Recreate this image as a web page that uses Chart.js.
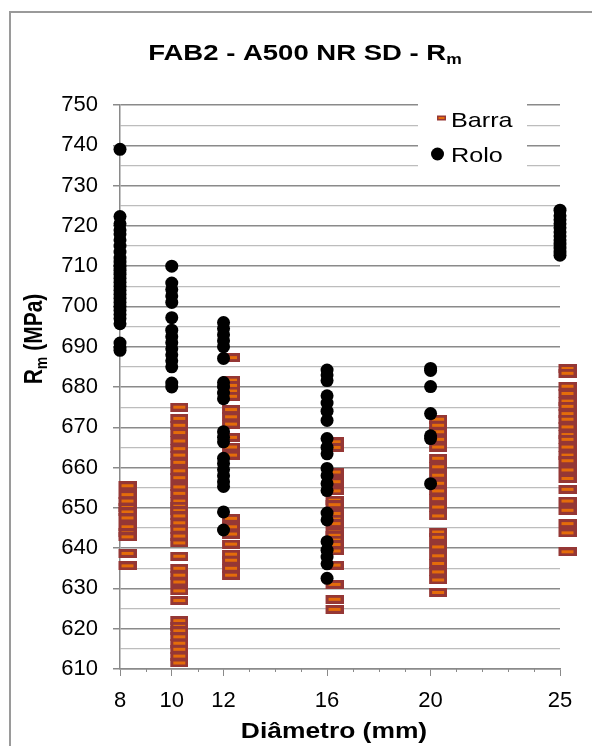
<!DOCTYPE html>
<html>
<head>
<meta charset="utf-8">
<script src="https://cdn.jsdelivr.net/npm/chart.js@4"></script>
<style>
  html, body { margin: 0; padding: 0; background: #fff; overflow: hidden; }
</style>
</head>
<body>
<canvas id="chart" width="592" height="746"></canvas>
<script>
'use strict';

// data (MPa)
const diameters = [8, 10, 12, 16, 20, 25];
const xLabels = [8, 10, 12, 16, 20, 25];

const barra8 = [655.5, 653.3, 651.7, 650.1, 649, 647.5, 645.3, 643.8, 642.8, 638.7, 635.6];
const barra10 = [675, 672.2, 670.5, 668.7, 666.6, 664.7, 663.1, 661.3, 659.2, 657.5, 655.2, 653.6, 651.7, 650.4, 649.3, 648, 646.3, 644.7, 643, 641.3,
  638, 635, 633.3, 631.6, 629.4, 627, 622, 620.6, 619.5, 618, 616.4, 614.9, 613.2, 611.5];
const barra12 = [687.3, 681.7, 680.4, 679, 677.7, 674.4, 672.6, 670.8, 667.5, 665.1, 663.1, 647.4, 645.3, 643.5, 641, 638.5, 637, 635, 633.3];
const barra16 = [666.4, 665, 658.9, 656.5, 654.2, 651.9, 650.8, 648.6, 647.2, 646.1, 644, 643.2, 642, 640.9, 639.3, 635.8, 631, 627.3, 624.8];
const barra20 = [672, 670.5, 668.9, 667, 665.1, 662.3, 660.2, 658.1, 656.1, 654.2, 652.3, 650.2, 648, 644, 642.7, 640.3, 638.1, 636.2, 634.1, 632.1, 629];
const barra25 = [684.6, 683.4, 680.2, 678.4, 676.5, 675.2, 673.4, 672, 670.1, 668.2, 667, 665.1, 663.1, 661.7, 659.4, 657.3, 654.6, 651.7, 649.4, 646.1, 643.8, 639.1];

const rolo8 = [739, 722.3, 720.5, 719, 718, 716.5, 715, 713.5, 712, 711, 710, 709, 708, 707, 706, 705, 704, 703, 702, 701, 700, 699, 698, 697, 695.7, 690.9, 689.8, 689.1];
const rolo10 = [710, 705.8, 704.2, 702.6, 701, 697.2, 694.1, 692.5, 691, 689.5, 688, 686.5, 685, 681, 680];
const rolo12 = [696, 694.5, 693, 691.5, 690, 687.1, 681.1, 680, 678.5, 677.1, 668.9, 667.5, 666.4, 662.3, 661, 659.5, 658, 656.5, 655.3, 649, 644.5];
const rolo16 = [684.2, 683, 681.6, 677.8, 676, 674, 671.7, 667.2, 665, 663.4, 659.8, 658, 656, 654.3, 648.7, 647, 641.6, 639.5, 637.8, 636.1, 632.5];
const rolo20 = [684.6, 684.1, 680.1, 673.4, 667.9, 667.2, 656];
const rolo25 = [723.9, 722.5, 721.5, 720.5, 719.5, 718.5, 717.5, 716.5, 715.5, 714.5, 713.5, 712.7];

const barraSets = [barra8, barra10, barra12, barra16, barra20, barra25];
const roloSets = [rolo8, rolo10, rolo12, rolo16, rolo20, rolo25];

// colours
const darkRed = '#953735';
const orange = '#E46C0A';
const majorGrid = '#8a8a8a';
const minorGrid = '#bdbdbd';
const fontFamily = "'Liberation Sans', Arial, sans-serif";

function toPoints(sets) {
  let points = [];
  for (let i = 0; i < diameters.length; i++) {
    for (let j = 0; j < sets[i].length; j++) {
      points.push({ x: diameters[i], y: sets[i][j] });
    }
  }
  return points;
}

// Barra marker: a small dark red bar with an orange stripe, drawn a bit right of its point
function makeBarraMarker() {
  let c = document.createElement('canvas');
  c.width = 33;
  c.height = 9;
  let g = c.getContext('2d');
  g.fillStyle = darkRed;
  g.fillRect(15, 0, 18, 9);
  g.fillStyle = orange;
  g.fillRect(18, 3, 12, 3);
  return c;
}

// text stretched sideways like in the picture
function drawParts(ctx, parts, x, y, align, sx, sy) {
  let width = 0;
  for (let p of parts) {
    ctx.font = p.font;
    width += ctx.measureText(p.text).width;
  }
  ctx.save();
  ctx.translate(x, y);
  ctx.scale(sx, sy);
  let cx = align === 'center' ? -width / 2 : 0;
  ctx.textAlign = 'left';
  ctx.textBaseline = 'alphabetic';
  ctx.fillStyle = '#000';
  for (let p of parts) {
    ctx.font = p.font;
    ctx.fillText(p.text, cx, p.dy || 0);
    cx += ctx.measureText(p.text).width;
  }
  ctx.restore();
}

const decor = {
  id: 'decor',
  beforeDraw(chart) {
    let ctx = chart.ctx;
    ctx.save();
    ctx.fillStyle = '#fff';
    ctx.fillRect(0, 0, chart.width, chart.height);
    ctx.restore();
  },
  afterDraw(chart) {
    let ctx = chart.ctx;
    let xs = chart.scales.x;
    let bottom = chart.chartArea.bottom;

    // short minor ticks on the x axis
    ctx.save();
    ctx.strokeStyle = majorGrid;
    ctx.lineWidth = 1;
    for (let v = 9; v < 25; v++) {
      if (xLabels.includes(v)) continue;
      let px = Math.round(xs.getPixelForValue(v)) + 0.5;
      ctx.beginPath();
      ctx.moveTo(px, bottom);
      ctx.lineTo(px, bottom + 3);
      ctx.stroke();
    }

    // outer frame
    ctx.strokeStyle = '#9a9a9a';
    ctx.lineWidth = 2;
    ctx.beginPath();
    ctx.moveTo(10, 760);
    ctx.lineTo(10, 12);
    ctx.lineTo(600, 12);
    ctx.stroke();
    ctx.restore();

    // title
    drawParts(ctx, [
      { text: 'FAB2 - A500 NR SD - R', font: 'bold 22px ' + fontFamily },
      { text: 'm', font: 'bold 14px ' + fontFamily, dy: 4 }
    ], 305, 60, 'center', 1.25, 1);

    // x axis title
    drawParts(ctx, [
      { text: 'Diâmetro (mm)', font: 'bold 22px ' + fontFamily }
    ], 334, 738, 'center', 1.2, 1);

    // y axis title, rotated
    ctx.save();
    ctx.translate(42, 339);
    ctx.rotate(-Math.PI / 2);
    drawParts(ctx, [
      { text: 'R', font: 'bold 21px ' + fontFamily },
      { text: 'm', font: 'bold 14px ' + fontFamily, dy: 4 },
      { text: ' (MPa)', font: 'bold 21px ' + fontFamily }
    ], 0, 0, 'center', 1, 1.2);
    ctx.restore();

    // legend
    ctx.save();
    ctx.fillStyle = '#fff';
    ctx.fillRect(418, 97, 109, 76);
    ctx.fillStyle = darkRed;
    ctx.fillRect(437, 115.5, 9, 5);
    ctx.fillStyle = orange;
    ctx.fillRect(438.5, 117, 6, 2);
    ctx.fillStyle = '#000';
    ctx.beginPath();
    ctx.arc(437.5, 154, 6.5, 0, Math.PI * 2);
    ctx.fill();
    ctx.restore();
    drawParts(ctx, [{ text: 'Barra', font: '21px ' + fontFamily }], 451, 126.5, 'left', 1.2, 1);
    drawParts(ctx, [{ text: 'Rolo', font: '21px ' + fontFamily }], 451, 161.5, 'left', 1.2, 1);
  }
};

const data = {
  datasets: [{
    label: 'Barra',
    data: toPoints(barraSets),
    pointStyle: makeBarraMarker(),
    order: 1,
    clip: false
  },
  {
    label: 'Rolo',
    data: toPoints(roloSets),
    pointStyle: 'circle',
    pointRadius: 6.5,
    backgroundColor: '#000',
    borderWidth: 0,
    order: 0,
    clip: false
  }]
};

const config = {
  type: 'scatter',
  data: data,
  options: {
    responsive: false,
    animation: false,
    devicePixelRatio: 1,
    layout: { padding: { top: 105, right: 32, bottom: 0, left: 0 } },
    plugins: {
      legend: { display: false },
      title: { display: false },
      tooltip: { enabled: false }
    },
    scales: {
      x: {
        type: 'linear',
        min: 8,
        max: 25,
        ticks: {
          stepSize: 1,
          autoSkip: false,
          maxRotation: 0,
          padding: 12,
          color: '#000',
          font: { family: fontFamily, size: 22 },
          callback: v => xLabels.includes(v) ? v : ''
        },
        grid: {
          drawOnChartArea: false,
          tickLength: 7,
          tickColor: ctx => ctx.tick && xLabels.includes(ctx.tick.value) ? majorGrid : 'rgba(0,0,0,0)'
        },
        border: { color: majorGrid, width: 1.5 },
        afterFit: s => { s.height = 77; }
      },
      y: {
        min: 610,
        max: 750,
        ticks: {
          stepSize: 5,
          autoSkip: false,
          padding: 15,
          color: '#000',
          font: { family: fontFamily, size: 22 },
          callback: v => v % 10 === 0 ? v : ''
        },
        grid: {
          color: ctx => ctx.tick && ctx.tick.value % 10 === 0 ? majorGrid : minorGrid,
          lineWidth: ctx => ctx.tick && ctx.tick.value % 10 === 0 ? 1.5 : 1.2,
          tickLength: 7,
          tickColor: ctx => ctx.tick && ctx.tick.value % 10 === 0 ? majorGrid : 'rgba(0,0,0,0)'
        },
        border: { color: majorGrid, width: 1.5 },
        afterFit: s => { s.width = 120; }
      }
    }
  },
  plugins: [decor]
};

new Chart(document.getElementById('chart'), config);
</script>
</body>
</html>
